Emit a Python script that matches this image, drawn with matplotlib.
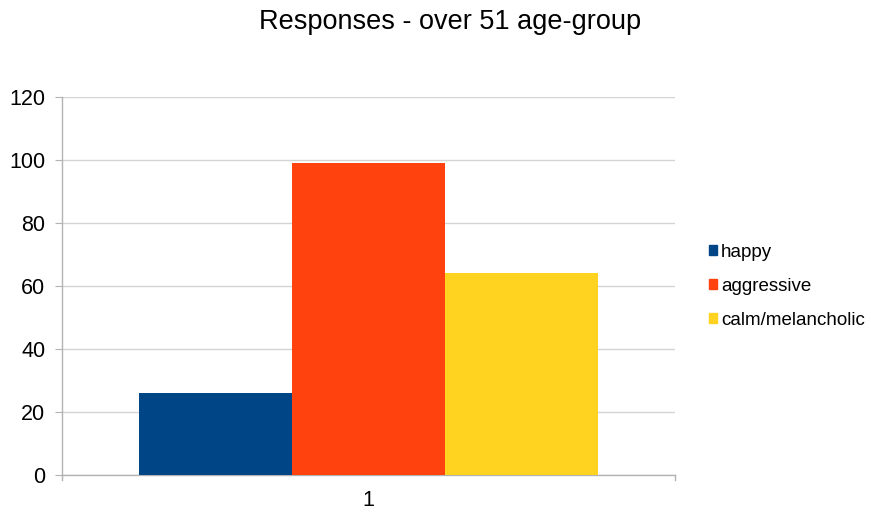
import matplotlib
matplotlib.use("Agg")
import matplotlib.pyplot as plt
import matplotlib.patches as mpatches

plt.rcParams['font.family'] = ['Liberation Sans', 'DejaVu Sans']

# Réponses pour la tranche d'âge "over 51"
categories = ["1"]
series_names = ["happy", "aggressive", "calm/melancholic"]
series_values = [26, 99, 64]
series_colors = ["#004586", "#ff420e", "#ffd320"]

fig = plt.figure(figsize=(8.71, 5.12), dpi=100)
ax = fig.add_axes([0.0712, 0.0723, 0.7038, 0.7382])

width = 0.25
offsets = [-width, 0, width]
for name, val, col, off in zip(series_names, series_values, series_colors, offsets):
    ax.bar(1 + off, val, width=width, color=col, label=name, zorder=3)

ax.set_xlim(0.5, 1.5)
ax.set_ylim(0, 120)
ax.set_yticks(range(0, 121, 20))
ax.set_xticks([1])
ax.set_xticklabels(categories)

# grille et axes gris clair
ax.grid(axis='y', color='#d4d4d4', linewidth=1, zorder=0)
for side in ['top', 'right']:
    ax.spines[side].set_visible(False)
for side in ['left', 'bottom']:
    ax.spines[side].set_color('#b3b3b3')
    ax.spines[side].set_linewidth(1)
ax.tick_params(axis='y', length=5, color='#b3b3b3', labelsize=15.5, pad=7)
ax.tick_params(axis='x', length=0, labelsize=15.5, pad=11)
for x in (0.5, 1.5):
    ax.plot([x, x], [0, -1.6], color='#b3b3b3', lw=1, clip_on=False)

fig.text(0.517, 0.957, "Responses - over 51 age-group", ha='center', va='center', fontsize=19.5)

handles = [mpatches.Patch(color=c, label=n) for n, c in zip(series_names, series_colors)]
fig.legend(handles=handles, loc='center left', bbox_to_anchor=(0.814, 0.441),
           frameon=False, fontsize=13.5, handlelength=0.45, handleheight=0.45,
           handletextpad=0.2, labelspacing=0.9, borderaxespad=0, borderpad=0)

fig.savefig("out.png", dpi=100)
